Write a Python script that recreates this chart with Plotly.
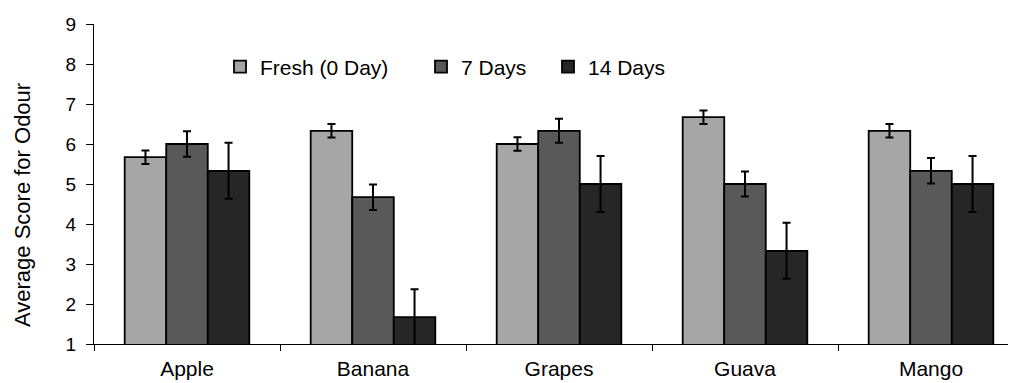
import plotly.graph_objects as go

categories = ["Apple", "Banana", "Grapes", "Guava", "Mango"]
series_names = ["Fresh (0 Day)", "7 Days", "14 Days"]
fresh = [5.67, 6.33, 6.0, 6.67, 6.33]
fresh_err = [0.17, 0.17, 0.17, 0.17, 0.17]
days7 = [6.0, 4.67, 6.33, 5.0, 5.33]
days7_err = [0.32, 0.32, 0.3, 0.31, 0.32]
days14 = [5.33, 1.67, 5.0, 3.33, 5.0]
days14_err = [0.7, 0.7, 0.7, 0.7, 0.7]
y_ticks = [1, 2, 3, 4, 5, 6, 7, 8, 9]
y_title = "Average Score for Odour"

colors = ["#A6A6A6", "#595959", "#262626"]
values = [fresh, days7, days14]
errors = [fresh_err, days7_err, days14_err]
legends = ["legend", "legend2", "legend3"]
FONT = "Liberation Sans, Arial, sans-serif"

fig = go.Figure()
for name, vals, errs, col, lg in zip(series_names, values, errors, colors, legends):
    fig.add_trace(go.Bar(
        x=categories, y=vals, name=name, legend=lg, showlegend=True,
        marker=dict(color=col, line=dict(color="black", width=1.8)),
        error_y=dict(type="data", array=errs, visible=True, color="black",
                     thickness=2, width=4),
    ))

# page body adds an 8px offset; figure is sized so the plot area lands where the reference has it
leg_y = (344 - 67) / 320
leg_common = dict(orientation="h", xanchor="left", yanchor="middle", y=leg_y, visible=True,
                  bgcolor="rgba(0,0,0,0)", font=dict(family=FONT, size=21, color="black"))
fig.update_layout(
    width=1008, height=375,
    margin=dict(l=86, r=0, t=16, b=39),
    paper_bgcolor="white", plot_bgcolor="white",
    showlegend=True,
    barmode="group", bargap=0.33, bargroupgap=0,
    font=dict(family=FONT, color="black"),
    legend=dict(x=(220 - 94) / 922, **leg_common),
    legend2=dict(x=(421 - 94) / 922, **leg_common),
    legend3=dict(x=(548 - 94) / 922, **leg_common),
    xaxis=dict(range=[-0.5, 4.457], showline=True, linecolor="black", linewidth=1,
               ticks="outside", tickson="boundaries", ticklen=6, tickcolor="black",
               ticklabelstandoff=6,
               tickfont=dict(family=FONT, size=21, color="black"), showgrid=False),
    yaxis=dict(range=[1, 9], tickvals=y_ticks, showline=True, linecolor="black", linewidth=1,
               ticks="outside", ticklen=7, tickcolor="black", showgrid=False, zeroline=False,
               ticklabelstandoff=6,
               tickfont=dict(family=FONT, size=19, color="black")),
    annotations=[dict(text=y_title, textangle=-90, xref="paper", yref="paper",
                      x=(14 - 86) / 922, y=(336 - 197) / 320, xanchor="center", yanchor="middle",
                      showarrow=False, font=dict(family=FONT, size=22, color="black"))],
)
fig.write_html("out.html")
